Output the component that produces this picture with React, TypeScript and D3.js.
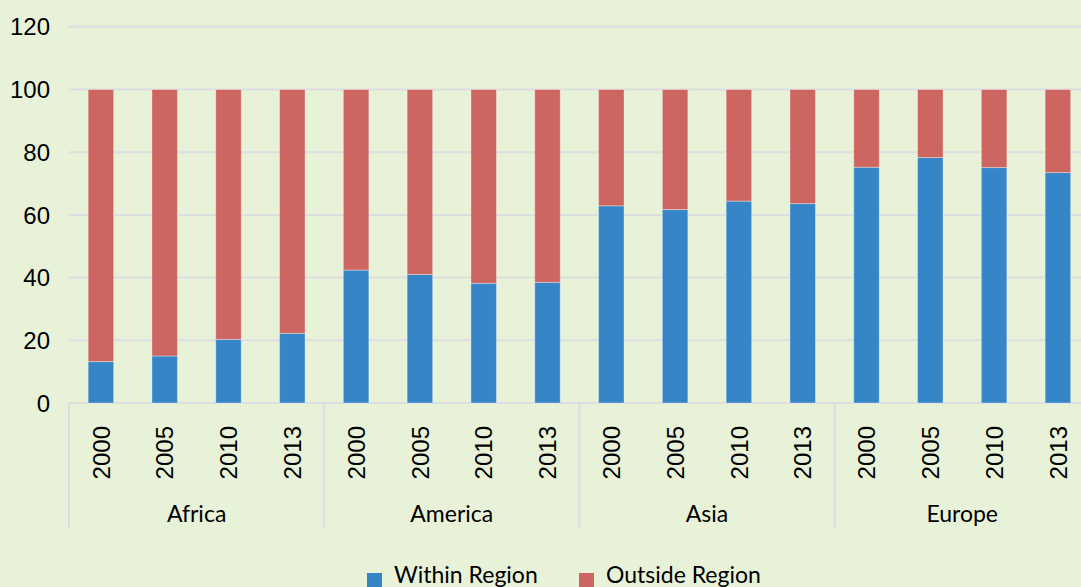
import React, { useRef, useEffect } from "react";
import * as d3 from "d3";

const regions = ["Africa", "America", "Asia", "Europe"];
const years = ["2000", "2005", "2010", "2013"];
// share of trade within the region, per region, per year
const withinRegion = [
  [13.2, 15.0, 20.3, 22.2],
  [42.4, 41.0, 38.2, 38.5],
  [62.9, 61.7, 64.4, 63.6],
  [75.2, 78.3, 75.1, 73.5],
];
const seriesNames = ["Within Region", "Outside Region"];
const yTicks = [0, 20, 40, 60, 80, 100, 120];

const BLUE = "#3686C7";
const RED = "#CD6660";
const BG = "#E8F2D9";
const GRID = "#DCDEE0";

const App: React.FC = () => {
  const ref = useRef<SVGSVGElement | null>(null);

  useEffect(() => {
    if (!ref.current) return;
    const width = 1081;
    const height = 587;
    const left = 69;
    const step = 63.8;

    const svg = d3.select(ref.current);
    svg.selectAll("*").remove();

    svg.append("rect").attr("width", width).attr("height", height).attr("fill", BG);

    // flat list of bars
    const rows = regions.flatMap((r, i) =>
      years.map((yr, j) => ({
        key: `${r}-${yr}`,
        region: r,
        year: yr,
        within: withinRegion[i][j],
        outside: 100 - withinRegion[i][j],
      }))
    );

    const x = d3.scaleBand<string>()
      .domain(rows.map((d) => d.key))
      .range([left, left + step * rows.length])
      .paddingInner(0.6)
      .paddingOuter(0.3);

    const y = d3.scaleLinear().domain([0, 120]).range([403, 26.8]);

    // grid lines
    svg.append("g")
      .selectAll("line")
      .data(yTicks)
      .join("line")
      .attr("x1", left)
      .attr("x2", width)
      .attr("y1", (d) => y(d))
      .attr("y2", (d) => y(d))
      .attr("stroke", GRID)
      .attr("stroke-width", 2);

    // y tick labels
    svg.append("g")
      .selectAll("text")
      .data(yTicks)
      .join("text")
      .attr("x", 50)
      .attr("y", (d) => y(d))
      .attr("dy", "0.36em")
      .attr("text-anchor", "end")
      .attr("font-family", "'Liberation Sans', Arial, sans-serif")
      .attr("font-size", 24)
      .attr("fill", "#000")
      .text((d) => d);

    // stacked bars
    const stack = d3.stack<typeof rows[number]>().keys(["within", "outside"]);
    const series = stack(rows);
    const colors = [BLUE, RED];

    svg.append("g")
      .selectAll("g")
      .data(series)
      .join("g")
      .attr("fill", (_, i) => colors[i])
      .selectAll("rect")
      .data((s) => s)
      .join("rect")
      .attr("x", (d) => x(d.data.key)!)
      .attr("width", x.bandwidth())
      .attr("y", (d) => y(d[1]))
      .attr("height", (d) => y(d[0]) - y(d[1]))
      .attr("stroke", "#ffffff")
      .attr("stroke-opacity", 0.35)
      .attr("stroke-width", 1);

    // year labels
    svg.append("g")
      .selectAll("text")
      .data(rows)
      .join("text")
      .attr("transform", (d) => `translate(${x(d.key)! + x.bandwidth() / 2},426) rotate(-90)`)
      .attr("dy", "0.36em")
      .attr("text-anchor", "end")
      .attr("font-family", "'Liberation Sans', Arial, sans-serif")
      .attr("font-size", 24)
      .attr("fill", "#000")
      .text((d) => d.year);

    // group separators
    const sep = d3.range(regions.length + 1).map((i) => left + i * step * years.length);
    svg.append("g")
      .selectAll("line")
      .data(sep)
      .join("line")
      .attr("x1", (d) => d)
      .attr("x2", (d) => d)
      .attr("y1", 403)
      .attr("y2", 528)
      .attr("stroke", GRID)
      .attr("stroke-width", 2);

    // region labels
    svg.append("g")
      .selectAll("text")
      .data(regions)
      .join("text")
      .attr("x", (_, i) => left + (i + 0.5) * step * years.length)
      .attr("y", 522)
      .attr("text-anchor", "middle")
      .attr("font-family", "Lato, 'Noto Sans', sans-serif")
      .attr("font-size", 23)
      .attr("fill", "#000")
      .text((d) => d);

    // legend
    const legendX = [367, 579];
    const lg = svg.append("g")
      .selectAll("g")
      .data(seriesNames)
      .join("g")
      .attr("transform", (_, i) => `translate(${legendX[i]},0)`);
    lg.append("rect")
      .attr("y", 573)
      .attr("width", 15)
      .attr("height", 15)
      .attr("fill", (_, i) => colors[i]);
    lg.append("text")
      .attr("x", 27)
      .attr("y", 583)
      .attr("font-family", "Lato, 'Noto Sans', sans-serif")
      .attr("font-size", 23)
      .attr("fill", "#000")
      .text((d) => d);
  }, []);

  return (
    <svg
      ref={ref}
      width={1081}
      height={587}
      style={{ position: "absolute", left: 0, top: 0, display: "block" }}
    />
  );
};

export default App;
